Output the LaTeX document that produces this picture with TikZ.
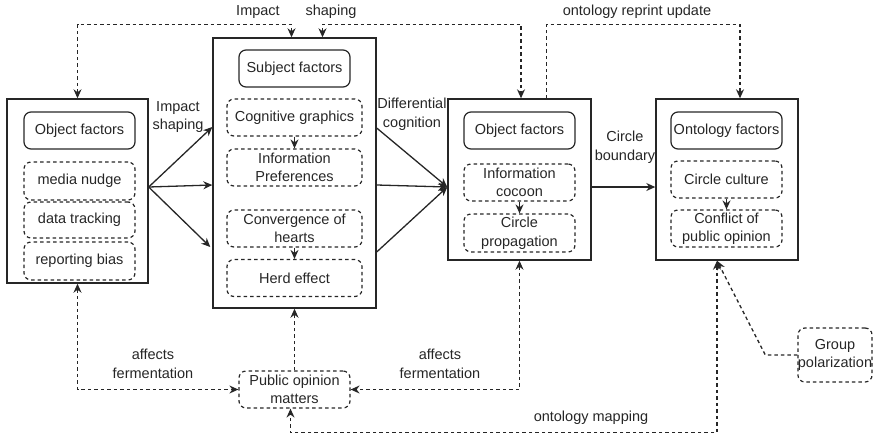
\documentclass[tikz,border=0pt]{standalone}
\usepackage{fontspec}
\setmainfont{Liberation Sans}
\usetikzlibrary{arrows.meta}

\begin{document}
\begin{tikzpicture}
    [x=1pt, y=-1pt,
    >={Stealth[length=9pt, width=8pt]},
    font=\fontsize{14.5}{18.5}\selectfont,
    every node/.style={text=black!85, align=center, inner sep=1pt},
    outer/.style={draw=black!85, line width=1.4pt},
    head/.style={draw=black!85, line width=1.2pt, rounded corners=7pt, minimum width=111pt, minimum height=37pt},
    item/.style={draw=black!85, line width=1.2pt, dash pattern=on 3.5pt off 3pt, rounded corners=7pt, minimum width=111pt, minimum height=37pt},
    arr/.style={draw=black!85, line width=1.3pt, ->},
    dline/.style={draw=black!85, line width=1.3pt, dash pattern=on 3.5pt off 3pt}]
        \useasboundingbox (0,0) rectangle (875,437);

        %% Object factors (left)
        \node[outer, minimum width=141pt, minimum height=184pt] (A) at (77.5,191) {};
        \node[head] (A1) at (79.5,130.5) {Object factors};
        \node[item, minimum height=38pt] (A2) at (79.5,181) {media nudge};
        \node[item, minimum height=36pt] (A3) at (79.5,220) {data tracking};
        \node[item, minimum height=38pt] (A4) at (79.5,261) {reporting bias};

        %% Subject factors
        \node[outer, minimum width=163pt, minimum height=270pt] (B) at (294.5,173) {};
        \node[head] (B1) at (294.5,68.5) {Subject factors};
        \node[item, minimum width=135pt] (B2) at (294.5,117.5) {Cognitive graphics};
        \node[item, minimum width=135pt] (B3) at (294.5,167.5) {Information\\Preferences};
        \node[item, minimum width=135pt] (B4) at (294.5,228.5) {Convergence of\\hearts};
        \node[item, minimum width=135pt] (B5) at (294.5,278) {Herd effect};

        %% Object factors (right)
        \node[outer, minimum width=143pt, minimum height=161pt] (C) at (519.5,179.5) {};
        \node[head] (C1) at (519.5,130.5) {Object factors};
        \node[item] (C2) at (519.5,182.5) {Information\\cocoon};
        \node[item, minimum height=38pt] (C3) at (519.5,233) {Circle\\propagation};

        %% Ontology factors
        \node[outer, minimum width=142pt, minimum height=161pt] (D) at (727,179.5) {};
        \node[head, inner sep=0pt] (D1) at (726.5,130.5) {Ontology factors};
        \node[item] (D2) at (726.5,179.5) {Circle culture};
        \node[item] (D3) at (726.5,228.5) {Conflict of\\public opinion};

        \node[item, inner sep=0pt, minimum width=74pt, minimum height=54pt] (G) at (835,355) {Group\\polarization};
        \node[item] (P) at (294.5,389.5) {Public opinion\\matters};

        %% inner arrows
        \draw[arr] (B2) to (B3);
        \draw[arr] (B4) to (B5);
        \draw[arr] (C2) to (C3);
        \draw[arr] (D2) to (D3);

        %% solid arrows
        \draw[arr] ([yshift=4pt]A.east) to ([yshift=46pt]B.west);
        \draw[arr] ([yshift=4pt]A.east) to ([yshift=-12pt]B.west);
        \draw[arr] ([yshift=4pt]A.east) to ([yshift=-74pt, xshift=-2pt]B.west);
        \draw[arr] ([yshift=45pt]B.east) to ([yshift=-7.5pt]C.west);
        \draw[arr] ([yshift=-12pt]B.east) to ([yshift=-7.5pt]C.west);
        \draw[arr] ([yshift=-79pt]B.east) to ([yshift=-7.5pt]C.west);
        \draw[arr] ([yshift=-7.5pt]C.east) to ([yshift=-7.5pt]D.west);

        \node (l1) at (178,117) {Impact\\shaping};
        \node (l2) at (412,114) {Differential\\cognition};
        \node (l3) at (625,147) {Circle\\boundary};

        %% dashed connectors on top
        \draw[dline, <->] (A.north) -- ++(0,-74) -| ([xshift=-3pt]B.north);
        \draw[dline, <->] ([xshift=28pt]B.north) -- ++(0,-13) -| ([xshift=1.5pt]C.north);
        \draw[dline, ->] ([xshift=27pt]C.north) -- ++(0,-74) -| ([xshift=13pt]D.north);
        \node (l4) at (258,12) {Impact};
        \node (l5) at (331,12) {shaping};
        \node (l6) at (637,12) {ontology reprint update};

        %% dashed connectors below
        \draw[dline, <->] (A.south) |- (P.west);
        \draw[dline, <->] (C.south) |- (P.east);
        \draw[dline, ->] (P.north) -- (B.south);
        \draw[dline, <->] ([xshift=-10pt]D.south) -- ++(0,172) -| ([xshift=-4pt]P.south);
        \draw[dline, ->] (G.west) -- ++(-32,0) -- ([xshift=-10pt]D.south);
        \node (l7) at (153,364) {affects\\fermentation};
        \node (l8) at (440,364) {affects\\fermentation};
        \node (l9) at (591,418) {ontology mapping};
    \end{tikzpicture}
\end{document}
